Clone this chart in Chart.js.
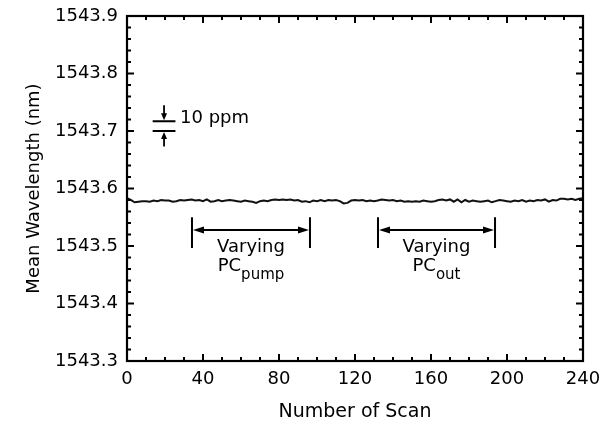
<!DOCTYPE html>
<html>
<head>
<meta charset="utf-8">
<script src="https://cdn.jsdelivr.net/npm/chart.js@4"></script>
<style>
  html, body { margin: 0; padding: 0; background: #fff; }
</style>
</head>
<body>
<canvas id="scanChart" width="612" height="427"></canvas>
<script>
// scan number and mean wavelength (nm)
const scans = [0, 2, 4, 6, 8, 10, 12, 14, 16, 18, 20, 22, 24, 26, 28, 30, 32, 34, 36, 38,
  40, 42, 44, 46, 48, 50, 52, 54, 56, 58, 60, 62, 64, 66, 68, 70, 72, 74, 76, 78,
  80, 82, 84, 86, 88, 90, 92, 94, 96, 98, 100, 102, 104, 106, 108, 110, 112, 114, 116, 118,
  120, 122, 124, 126, 128, 130, 132, 134, 136, 138, 140, 142, 144, 146, 148, 150, 152, 154, 156, 158,
  160, 162, 164, 166, 168, 170, 172, 174, 176, 178, 180, 182, 184, 186, 188, 190, 192, 194, 196, 198,
  200, 202, 204, 206, 208, 210, 212, 214, 216, 218, 220, 222, 224, 226, 228, 230, 232, 234, 236, 238, 240];

const wavelength = [1543.583, 1543.580, 1543.576, 1543.577, 1543.578, 1543.578, 1543.577, 1543.579, 1543.578, 1543.580,
  1543.579, 1543.579, 1543.577, 1543.578, 1543.580, 1543.579, 1543.580, 1543.581, 1543.579, 1543.580,
  1543.578, 1543.581, 1543.577, 1543.578, 1543.580, 1543.578, 1543.579, 1543.580, 1543.579, 1543.578,
  1543.577, 1543.579, 1543.578, 1543.577, 1543.575, 1543.578, 1543.579, 1543.578, 1543.580, 1543.581,
  1543.580, 1543.581, 1543.580, 1543.581, 1543.579, 1543.580, 1543.577, 1543.578, 1543.576, 1543.579,
  1543.578, 1543.580, 1543.578, 1543.580, 1543.579, 1543.580, 1543.578, 1543.574, 1543.575, 1543.579,
  1543.580, 1543.579, 1543.580, 1543.578, 1543.579, 1543.578, 1543.579, 1543.581, 1543.580, 1543.579,
  1543.580, 1543.578, 1543.579, 1543.577, 1543.578, 1543.577, 1543.578, 1543.577, 1543.579, 1543.578,
  1543.577, 1543.578, 1543.580, 1543.581, 1543.579, 1543.581, 1543.577, 1543.581, 1543.576, 1543.580,
  1543.577, 1543.579, 1543.578, 1543.577, 1543.578, 1543.579, 1543.576, 1543.578, 1543.580, 1543.579,
  1543.578, 1543.577, 1543.579, 1543.578, 1543.580, 1543.577, 1543.579, 1543.578, 1543.580, 1543.579,
  1543.581, 1543.577, 1543.580, 1543.579, 1543.582, 1543.582, 1543.581, 1543.582, 1543.580, 1543.582, 1543.583];

const xTickLabels = [0, 40, 80, 120, 160, 200, 240];
const yTickLabels = [1543.3, 1543.4, 1543.5, 1543.6, 1543.7, 1543.8, 1543.9];

// annotation ranges (scan numbers)
const pumpRange = [34.2, 96.3];
const outRange = [132.1, 193.7];

const FONT = "'DejaVu Sans', 'Liberation Sans', Arial, sans-serif";

function arrowHead(ctx, x, y, dx, dy, len, half) {
  // filled triangle with tip at (x, y), pointing along (dx, dy)
  const px = -dy, py = dx;
  ctx.beginPath();
  ctx.moveTo(x, y);
  ctx.lineTo(x - dx * len + px * half, y - dy * len + py * half);
  ctx.lineTo(x - dx * len - px * half, y - dy * len - py * half);
  ctx.closePath();
  ctx.fill();
}

function drawRange(ctx, x, y, range, sub) {
  const x0 = x.getPixelForValue(range[0]);
  const x1 = x.getPixelForValue(range[1]);
  const yTop = y.getPixelForValue(1543.550);
  const yBot = y.getPixelForValue(1543.4965);
  const yMid = y.getPixelForValue(1543.528);
  ctx.lineWidth = 2;
  ctx.beginPath();
  ctx.moveTo(x0, yTop); ctx.lineTo(x0, yBot);
  ctx.moveTo(x1, yTop); ctx.lineTo(x1, yBot);
  ctx.moveTo(x0 + 6, yMid); ctx.lineTo(x1 - 6, yMid);
  ctx.stroke();
  arrowHead(ctx, x0 + 1, yMid, -1, 0, 11, 3.5);
  arrowHead(ctx, x1 - 1, yMid, 1, 0, 11, 3.5);

  const cx = (x0 + x1) / 2;
  ctx.textBaseline = 'alphabetic';
  ctx.textAlign = 'center';
  ctx.font = '18px ' + FONT;
  ctx.fillText('Varying', cx, y.getPixelForValue(1543.4896));
  const base = y.getPixelForValue(1543.4565);
  ctx.textAlign = 'left';
  const w1 = ctx.measureText('PC').width;
  ctx.font = '15px ' + FONT;
  const w2 = ctx.measureText(sub).width;
  const start = cx - (w1 + w2) / 2;
  ctx.font = '18px ' + FONT;
  ctx.fillText('PC', start, base);
  ctx.font = '15px ' + FONT;
  ctx.fillText(sub, start + w1, base + 8);
}

const framePlugin = {
  id: 'frame',
  afterDatasetsDraw(chart) {
    const { ctx, chartArea: a, scales: { x, y } } = chart;
    ctx.save();
    ctx.strokeStyle = '#000';
    ctx.fillStyle = '#000';

    // box
    ctx.lineWidth = 2.2;
    ctx.strokeRect(a.left, a.top, a.right - a.left, a.bottom - a.top);

    // inward ticks on all sides
    ctx.lineWidth = 2;
    ctx.beginPath();
    for (let v = 0; v <= 240; v += 10) {
      const px = x.getPixelForValue(v);
      const len = v % 40 === 0 ? 7 : 4;
      ctx.moveTo(px, a.bottom); ctx.lineTo(px, a.bottom - len);
      ctx.moveTo(px, a.top); ctx.lineTo(px, a.top + len);
    }
    for (let i = 0; i <= 30; i++) {
      const py = y.getPixelForValue(1543.3 + i * 0.02);
      const len = i % 5 === 0 ? 7 : 4;
      ctx.moveTo(a.left, py); ctx.lineTo(a.left + len, py);
      ctx.moveTo(a.right, py); ctx.lineTo(a.right - len, py);
    }
    ctx.stroke();

    // 10 ppm marker
    const mx0 = x.getPixelForValue(13.5);
    const mx1 = x.getPixelForValue(25.5);
    const mxc = x.getPixelForValue(19.5);
    const up = y.getPixelForValue(1543.717);
    const lo = y.getPixelForValue(1543.700);
    ctx.lineWidth = 1.8;
    ctx.beginPath();
    ctx.moveTo(mx0, up); ctx.lineTo(mx1, up);
    ctx.moveTo(mx0, lo); ctx.lineTo(mx1, lo);
    ctx.moveTo(mxc, y.getPixelForValue(1543.745)); ctx.lineTo(mxc, up - 4);
    ctx.moveTo(mxc, lo + 4); ctx.lineTo(mxc, y.getPixelForValue(1543.673));
    ctx.stroke();
    arrowHead(ctx, mxc, up - 1, 0, 1, 7, 3);
    arrowHead(ctx, mxc, lo + 1, 0, -1, 7, 3);
    ctx.font = '18px ' + FONT;
    ctx.textAlign = 'left';
    ctx.textBaseline = 'alphabetic';
    ctx.fillText('10 ppm', x.getPixelForValue(27.9), y.getPixelForValue(1543.714));

    drawRange(ctx, x, y, pumpRange, 'pump');
    drawRange(ctx, x, y, outRange, 'out');
    ctx.restore();
  }
};

const ctx = document.getElementById('scanChart').getContext('2d');

new Chart(ctx, {
  type: 'line',
  data: {
    datasets: [{
      data: scans.map((s, i) => ({ x: s, y: wavelength[i] })),
      borderColor: '#111',
      borderWidth: 2,
      pointRadius: 0,
      tension: 0,
      fill: false
    }]
  },
  options: {
    responsive: false,
    animation: false,
    layout: { padding: { left: 0, right: 29, top: 16, bottom: 0 } },
    plugins: { legend: { display: false }, tooltip: { enabled: false } },
    scales: {
      x: {
        type: 'linear',
        min: 0,
        max: 240,
        grid: { display: false, drawTicks: false },
        border: { display: false },
        afterBuildTicks: s => { s.ticks = xTickLabels.map(v => ({ value: v })); },
        ticks: { padding: 8, color: '#000', maxRotation: 0, autoSkip: false, font: { family: FONT, size: 18 } },
        title: { display: true, text: 'Number of Scan', color: '#000', font: { family: FONT, size: 19 }, padding: { top: 0, bottom: 4 } },
        afterFit: s => { s.height = 66; s.paddingLeft = 0; s.paddingRight = 0; }
      },
      y: {
        min: 1543.3,
        max: 1543.9,
        grid: { display: false, drawTicks: false },
        border: { display: false },
        afterBuildTicks: s => { s.ticks = yTickLabels.map(v => ({ value: v })); },
        ticks: { padding: 9, color: '#000', autoSkip: false, font: { family: FONT, size: 18 }, callback: v => v.toFixed(1) },
        title: { display: true, text: 'Mean Wavelength (nm)', color: '#000', font: { family: FONT, size: 18 }, padding: { top: 24, bottom: 0 } },
        afterFit: s => { s.width = 127; s.paddingTop = 0; s.paddingBottom = 0; }
      }
    }
  },
  plugins: [framePlugin]
});
</script>
</body>
</html>
